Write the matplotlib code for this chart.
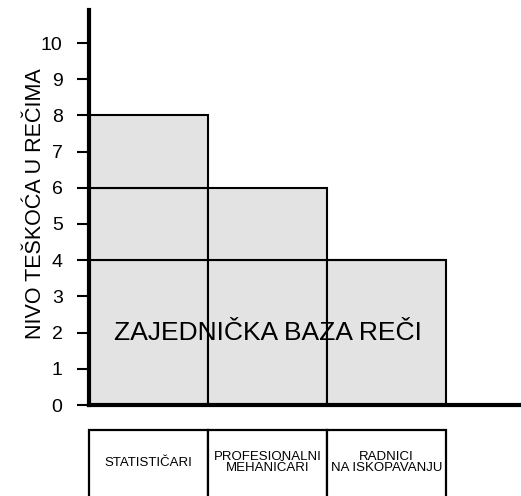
import numpy as np
import matplotlib.pyplot as plt
from matplotlib.patches import Rectangle

plt.rcParams['font.family'] = ['Liberation Sans', 'DejaVu Sans']

# data
groups = ['STATISTIČARI', 'PROFESIONALNI\nMEHANIČARI', 'RADNICI\nNA ISKOPAVANJU']
base_level = [4, 4, 4]          # zajednička baza reči
mid_level = [2, 2, 0]           # 4 -> 6
top_level = [2, 0, 0]           # 6 -> 8
yticks = list(range(0, 11))
fill = '#e3e3e3'

fig = plt.figure(figsize=(5.21, 4.96), dpi=100)
ax = fig.add_axes([89 / 521, 91 / 496, 1 - 89 / 521, 395 / 496])

x = np.arange(len(groups))
ax.bar(x, base_level, width=1.0, align='edge', color=fill, edgecolor='black', linewidth=1.5)
ax.bar(x, mid_level, bottom=base_level, width=1.0, align='edge', color=fill,
       edgecolor='black', linewidth=1.5)
bottom2 = np.array(base_level) + np.array(mid_level)
ax.bar(x[:1], top_level[:1], bottom=bottom2[:1], width=1.0, align='edge', color=fill,
       edgecolor='black', linewidth=1.5)

ax.text(1.5, 2, 'ZAJEDNIČKA BAZA REČI', ha='center', va='center', fontsize=19)

ax.set_xlim(0, 432 / 119)
ax.set_ylim(0, 395 / 36.2)
ax.set_yticks(yticks)
ax.set_xticks([])
ax.tick_params(axis='y', length=9, width=1.5, pad=10, labelsize=14)
for s in ['top', 'right']:
    ax.spines[s].set_visible(False)
ax.spines['left'].set_linewidth(3)
ax.spines['bottom'].set_linewidth(3)
ax.set_ylabel('NIVO TEŠKOĆA U REČIMA', fontsize=15.5)
ax.yaxis.set_label_coords(-0.10, 0.51)

# category boxes under the axis
ax2 = fig.add_axes([89 / 521, 0, 1 - 89 / 521, 67 / 496])
ax2.set_xlim(0, 432 / 119)
ax2.set_ylim(0, 1)
ax2.axis('off')
for i, g in enumerate(groups):
    ax2.add_patch(Rectangle((i, -0.2), 1, 1.18, facecolor='white', edgecolor='black',
                            linewidth=1.6, clip_on=False))
    ax2.text(i + 0.5, 0.5, g, ha='center', va='center', fontsize=9.5, linespacing=0.85)

fig.savefig('out.png', dpi=100)
